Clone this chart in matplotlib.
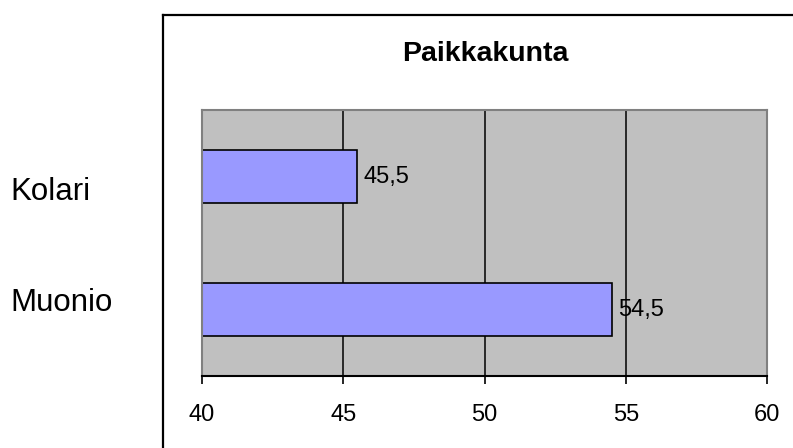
import matplotlib
matplotlib.use("Agg")
from matplotlib import pyplot as plt
from matplotlib.lines import Line2D

# Chart data
CATEGORIES = ["Muonio", "Kolari"]
VALUES = [54.5, 45.5]
X_TICKS = [40, 45, 50, 55, 60]
TITLE = "Paikkakunta"

# Styling
FIG_W, FIG_H, DPI = 793, 448, 100
BAR_COLOR = "#9999FF"
PLOT_BG = "#C0C0C0"
FRAME_GRAY = "#808080"
FONT = "Liberation Sans"


def px_x(x):
    return x / FIG_W


def px_y(y):
    return 1 - y / FIG_H


plt.rcParams["font.family"] = [FONT, "DejaVu Sans"]

fig = plt.figure(figsize=(FIG_W / DPI, FIG_H / DPI), dpi=DPI)
fig.patch.set_facecolor("white")

# plot area placement (pixels from reference)
left, right, top, bottom = 202, 767, 110, 376
ax = fig.add_axes([px_x(left), px_y(bottom), px_x(right) - px_x(left), px_y(top) - px_y(bottom)])
ax.set_facecolor(PLOT_BG)

x_min, x_max = X_TICKS[0], X_TICKS[-1]
y_pos = list(range(len(CATEGORIES)))

# vertical gridlines
for t in X_TICKS[1:-1]:
    ax.axvline(t, color="black", linewidth=1.1, zorder=1)

ax.barh(
    y_pos,
    [v - x_min for v in VALUES],
    left=x_min,
    height=0.4,
    color=BAR_COLOR,
    edgecolor="black",
    linewidth=1.2,
    zorder=2,
)

for y, v in zip(y_pos, VALUES):
    ax.annotate(
        f"{v:.1f}".replace(".", ","),
        xy=(v, y),
        xytext=(4.5, 0),
        textcoords="offset points",
        va="center",
        ha="left",
        fontsize=17,
        zorder=3,
    )

ax.set_xlim(x_min, x_max)
ax.set_ylim(-0.5, len(CATEGORIES) - 0.5)
ax.set_xticks(X_TICKS)
ax.set_xticklabels([str(t) for t in X_TICKS], fontsize=17)
ax.set_yticks([])
ax.tick_params(axis="x", direction="out", length=6, width=1.2, pad=14.5, color="black")

for side in ("left", "right", "top"):
    ax.spines[side].set_color(FRAME_GRAY)
    ax.spines[side].set_linewidth(1.5)
ax.spines["bottom"].set_color("black")
ax.spines["bottom"].set_linewidth(1.5)

# title and outer chart frame
fig.text(px_x(485), px_y(61), TITLE, ha="center", va="baseline", fontsize=20.5, fontweight="bold")
fig.add_artist(Line2D([px_x(163), 1.01], [px_y(15), px_y(15)], color="black", linewidth=1.6))
fig.add_artist(Line2D([px_x(163), px_x(163)], [px_y(15), -0.01], color="black", linewidth=1.6))

# category labels sit outside the chart frame (baseline positions in px)
label_base = {"Kolari": 200, "Muonio": 311}
for name in CATEGORIES:
    fig.text(px_x(10), px_y(label_base[name]), name, ha="left", va="baseline", fontsize=22.5)

fig.savefig("out.png", dpi=DPI)
plt.close(fig)
